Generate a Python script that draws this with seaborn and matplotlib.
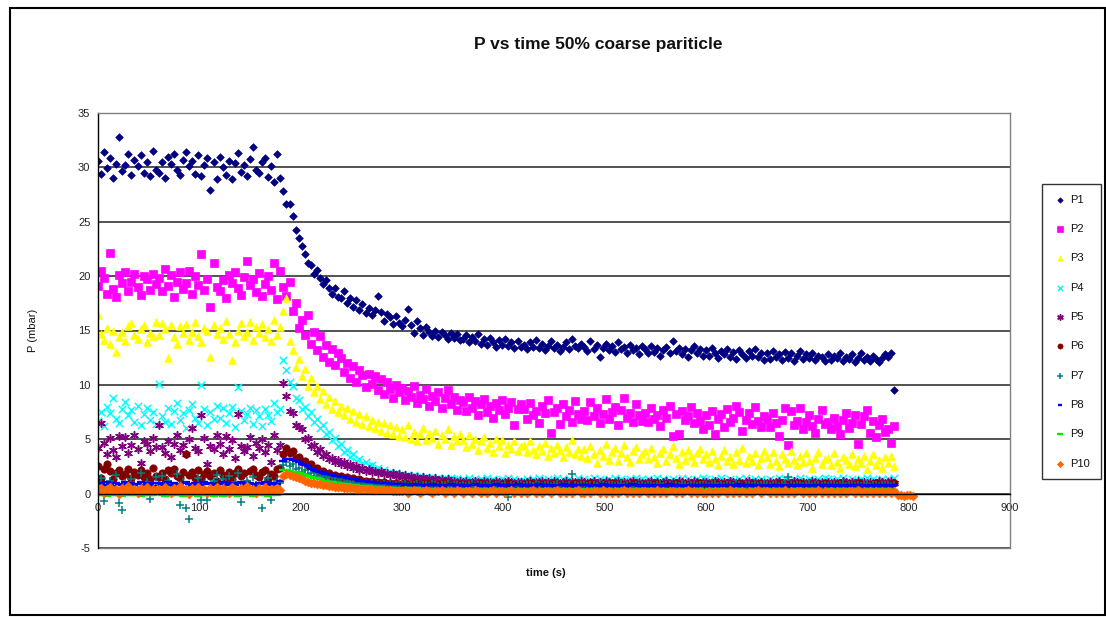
import matplotlib
matplotlib.use("Agg")
import matplotlib.pyplot as plt
import numpy as np
import pandas as pd
import seaborn as sns
from matplotlib.patches import Rectangle

# Logger sampling clock (s)
TIME = list(range(0, 805, 3))

# Pressure readings (mbar) for the ten tappings, one value per sample
P1 = [
    30.6, 29.4, 31.4, 29.9, 30.9, 29.0, 30.3, 32.8, 29.7, 30.2, 31.2, 29.3, 30.7, 30.1, 31.1, 29.5, 30.5, 29.2, 31.5, 29.8,
    29.5, 30.5, 29.0, 31.0, 30.3, 31.2, 29.8, 29.3, 30.7, 31.4, 30.1, 30.6, 29.4, 31.1, 29.2, 30.2, 30.9, 27.9, 30.5, 28.9,
    31.0, 30.0, 29.3, 30.6, 28.9, 30.4, 31.3, 29.6, 30.2, 29.2, 30.8, 31.9, 29.8, 29.5, 30.5, 30.9, 29.1, 30.1, 28.7, 31.2,
    29.0, 27.8, 26.6, 26.6, 25.5, 24.2, 23.5, 22.8, 22.0, 21.2, 21.0, 20.2, 20.6, 19.8, 19.3, 19.6, 18.9, 18.4, 18.9, 18.1,
    18.0, 18.6, 17.5, 18.0, 17.2, 17.8, 16.9, 17.4, 16.6, 17.1, 16.4, 16.9, 18.2, 16.7, 15.9, 16.5, 16.2, 15.6, 16.3, 15.7,
    15.4, 16.0, 17.0, 15.5, 14.8, 15.9, 15.2, 14.6, 15.3, 14.9, 14.5, 15.0, 14.4, 14.9, 14.6, 14.2, 14.8, 14.3, 14.7, 14.1,
    14.2, 14.6, 13.9, 14.4, 14.0, 14.7, 13.8, 14.2, 13.7, 14.3, 13.9, 13.5, 14.1, 13.7, 14.2, 13.6, 13.9, 13.4, 14.0, 13.5,
    13.7, 13.3, 13.9, 13.5, 14.1, 13.4, 13.8, 13.2, 13.6, 14.0, 13.4, 13.7, 13.1, 13.5, 13.9, 13.3, 14.2, 13.6, 13.4, 13.8,
    13.5, 13.1, 14.0, 13.3, 13.7, 12.6, 13.4, 13.8, 13.2, 13.6, 13.0, 13.9, 13.3, 13.5, 12.9, 13.7, 13.2, 13.4, 12.8, 13.6,
    13.3, 12.9, 13.6, 13.0, 13.4, 12.7, 13.2, 13.5, 12.9, 14.0, 13.1, 13.4, 12.8, 13.3, 12.6, 13.2, 13.6, 12.9, 13.3, 12.7,
    13.2, 12.7, 13.4, 12.9, 12.5, 13.1, 12.8, 13.3, 12.6, 13.0, 12.4, 13.2, 12.8, 12.5, 13.1, 12.7, 13.3, 12.6, 12.9, 12.3,
    12.9, 12.4, 13.1, 12.6, 12.8, 12.3, 13.0, 12.5, 12.9, 12.2, 12.7, 13.1, 12.4, 12.8, 12.5, 12.9, 12.3, 12.7, 12.6, 12.2,
    12.8, 12.3, 12.7, 12.5, 12.9, 12.2, 12.6, 12.4, 12.8, 12.1, 12.5, 12.9, 12.3, 12.6, 12.2, 12.7, 12.4, 12.1, 12.5, 12.8,
    12.6, 12.9, 9.5,
]
P2 = [
    19.1, 20.5, 19.8, 18.4, 22.1, 18.8, 18.1, 20.1, 19.4, 20.4, 18.6, 19.5, 20.2, 19.0, 18.3, 20.0, 19.7, 18.7, 20.2, 19.3,
    19.8, 18.6, 20.7, 19.1, 20.1, 18.1, 19.5, 20.4, 18.8, 19.4, 20.5, 18.4, 20.0, 19.2, 22.0, 18.7, 19.7, 17.2, 21.2, 19.0,
    18.6, 19.6, 18.0, 20.1, 19.4, 20.4, 18.9, 18.3, 19.9, 21.4, 19.2, 19.7, 18.5, 20.3, 18.2, 19.3, 20.0, 18.7, 21.2, 17.9,
    20.5, 19.0, 18.2, 19.5, 16.8, 17.5, 15.2, 16.0, 14.6, 16.4, 13.8, 14.9, 13.2, 14.5, 12.6, 13.7, 12.1, 13.3, 11.8, 12.9,
    12.5, 11.2, 12.0, 10.6, 11.7, 10.3, 11.4, 10.9, 9.8, 11.0, 10.1, 10.8, 9.5, 10.5, 9.2, 10.3, 9.6, 8.8, 10.0, 9.3,
    9.7, 8.6, 9.4, 8.9, 9.9, 8.3, 9.1, 8.7, 9.6, 8.1, 9.0, 8.5, 9.3, 7.9, 8.8, 9.5, 8.2, 8.9, 7.7, 8.6,
    8.4, 7.6, 8.9, 7.9, 8.5, 7.2, 8.2, 8.7, 7.5, 8.1, 7.0, 8.3, 7.7, 8.6, 7.3, 7.9, 8.4, 6.3, 7.8, 8.2,
    7.8, 6.9, 8.3, 7.2, 7.6, 6.5, 8.1, 7.4, 8.6, 5.6, 7.5, 7.9, 6.4, 8.2, 7.1, 7.7, 6.6, 8.5, 7.3, 6.9,
    7.6, 6.8, 8.4, 7.1, 7.9, 6.5, 7.3, 8.7, 6.9, 7.5, 8.0, 6.3, 7.7, 8.8, 7.0, 7.4, 6.6, 8.2, 7.2, 6.7,
    7.4, 6.6, 7.9, 6.9, 7.2, 6.2, 7.7, 7.0, 8.1, 5.3, 7.3, 5.5, 7.6, 6.8, 7.1, 8.0, 6.5, 7.4, 6.7, 5.9,
    7.2, 6.3, 7.6, 5.5, 6.9, 7.3, 6.1, 7.8, 6.6, 7.0, 8.1, 7.5, 5.8, 6.8, 7.4, 6.4, 8.0, 6.7, 6.1, 7.1,
    6.9, 6.1, 7.4, 6.5, 5.3, 6.8, 7.9, 4.5, 7.6, 6.3, 6.7, 7.9, 5.9, 6.6, 7.2, 6.2, 5.6, 6.9, 7.7, 6.4,
    6.6, 5.9, 7.0, 6.2, 5.5, 6.8, 7.4, 6.0, 6.5, 7.2, 4.6, 6.4, 7.1, 7.7, 5.6, 6.7, 5.2, 6.3, 6.9, 5.7,
    5.9, 4.7, 6.2,
]
P3 = [
    16.4, 14.7, 14.1, 15.2, 13.8, 15.0, 13.0, 14.4, 14.9, 14.0, 15.4, 15.7, 14.6, 14.2, 15.1, 15.5, 13.9, 14.8, 14.5, 15.8,
    14.6, 15.7, 15.1, 12.5, 15.5, 14.4, 13.8, 15.4, 14.8, 15.6, 14.1, 14.9, 15.8, 14.5, 13.9, 15.2, 15.0, 12.6, 15.5, 14.7,
    15.2, 14.2, 15.9, 14.7, 12.3, 13.9, 15.0, 15.7, 14.5, 14.9, 15.8, 14.1, 15.3, 14.8, 15.6, 14.4, 15.1, 14.0, 16.0, 14.6,
    15.3, 16.8, 18.0, 14.0, 13.2, 11.6, 12.4, 10.8, 11.5, 9.9, 10.6, 9.3, 9.9, 8.7, 9.4, 8.2, 8.9, 7.8, 8.5, 7.5,
    8.1, 7.2, 7.9, 6.9, 7.6, 6.6, 7.3, 6.4, 7.1, 6.2, 6.8, 6.0, 6.6, 5.8, 6.5, 5.6, 6.3, 5.5, 6.1, 5.3,
    5.9, 5.2, 6.3, 5.0, 5.7, 4.8, 5.5, 6.0, 4.9, 5.6, 5.1, 5.8, 4.6, 5.4, 5.0, 5.9, 4.5, 5.3, 4.8, 5.5,
    4.9, 4.3, 5.4, 4.6, 5.0, 4.0, 4.8, 5.2, 4.2, 4.7, 3.8, 5.0, 4.4, 4.9, 3.7, 4.5, 4.1, 4.8, 3.9, 4.4,
    4.5, 3.8, 4.8, 4.0, 3.6, 4.4, 3.9, 4.7, 3.5, 4.2, 3.7, 4.5, 4.0, 3.4, 4.3, 3.8, 4.9, 3.6, 4.1, 3.5,
    4.1, 3.3, 4.4, 3.6, 2.8, 4.0, 3.5, 4.6, 3.1, 3.8, 4.2, 3.0, 3.7, 4.5, 3.4, 2.9, 3.9, 4.3, 3.2, 3.6,
    3.9, 3.2, 4.2, 3.4, 2.8, 3.7, 4.1, 3.0, 3.6, 4.4, 3.3, 2.7, 3.8, 3.1, 4.0, 3.5, 2.9, 3.7, 4.1, 3.2,
    3.6, 2.9, 3.9, 3.2, 2.6, 3.5, 4.0, 3.0, 3.4, 2.7, 3.8, 3.1, 4.2, 2.8, 3.5, 3.0, 3.7, 2.6, 3.3, 3.9,
    3.4, 2.7, 3.8, 3.0, 2.5, 3.6, 3.2, 2.8, 3.9, 3.1, 2.6, 3.5, 2.9, 3.7, 3.0, 2.4, 3.3, 3.8, 2.7, 3.2,
    3.3, 2.6, 3.7, 2.9, 2.4, 3.4, 3.1, 2.7, 3.6, 2.5, 3.2, 2.8, 3.5, 2.3, 3.0, 3.6, 2.6, 3.1, 2.4, 3.4,
    2.8, 3.5, 2.5,
]
P4 = [
    6.7, 7.5, 6.2, 8.0, 7.4, 8.8, 6.9, 6.5, 7.8, 8.4, 7.2, 7.7, 6.6, 8.1, 6.3, 7.3, 7.9, 6.8, 7.5, 6.4,
    10.1, 7.1, 6.6, 7.9, 6.4, 7.6, 8.3, 6.8, 7.4, 6.0, 7.7, 8.2, 7.0, 6.5, 10.0, 7.8, 6.3, 7.5, 6.9, 8.1,
    7.0, 7.9, 6.5, 7.4, 8.0, 6.1, 9.8, 7.6, 6.8, 7.3, 7.9, 6.4, 7.7, 7.1, 6.2, 7.8, 7.2, 6.7, 8.3, 7.5,
    7.8, 12.3, 11.4, 10.3, 9.9, 8.8, 8.6, 7.8, 8.0, 7.1, 7.5, 6.6, 6.9, 6.0, 6.3, 5.5, 5.7, 4.9, 5.1, 4.4,
    4.6, 3.8, 4.0, 3.4, 3.6, 3.0, 3.2, 2.7, 2.9, 2.5, 2.6, 2.2, 2.4, 2.0, 2.2, 1.9, 2.0, 1.8, 1.9, 1.7,
    1.8, 1.6, 1.7, 1.5, 1.7, 1.5, 1.6, 1.4, 1.5, 1.4, 1.5, 1.3, 1.4, 1.3, 1.4, 1.2, 1.4, 1.3, 1.3, 1.2,
    1.3, 1.2, 1.4, 1.2, 1.3, 1.1, 1.3, 1.2, 1.4, 1.2, 1.3, 1.1, 1.2, 1.3, 1.2, 1.4, 1.1, 1.3, 1.2, 1.2,
    1.2, 1.3, 1.1, 1.3, 1.2, 1.4, 1.2, 1.1, 1.3, 1.2, 1.2, 1.4, 1.1, 1.3, 1.2, 1.3, 1.1, 1.2, 1.4, 1.2,
    1.3, 1.1, 1.2, 1.4, 1.2, 1.3, 1.1, 1.2, 1.3, 1.2, 1.4, 1.1, 1.3, 1.2, 1.2, 1.3, 1.1, 1.4, 1.2, 1.3,
    1.2, 1.3, 1.1, 1.2, 1.4, 1.2, 1.3, 1.1, 1.2, 1.3, 1.2, 1.1, 1.4, 1.2, 1.3, 1.2, 1.1, 1.3, 1.2, 1.4,
    1.3, 1.2, 1.1, 1.3, 1.2, 1.4, 1.1, 1.2, 1.3, 1.2, 1.1, 1.3, 1.2, 1.4, 1.2, 1.1, 1.3, 1.2, 1.3, 1.1,
    1.2, 1.3, 1.2, 1.1, 1.4, 1.2, 1.3, 1.1, 1.2, 1.3, 1.2, 1.4, 1.1, 1.2, 1.3, 1.2, 1.1, 1.3, 1.2, 1.4,
    1.3, 1.1, 1.2, 1.3, 1.2, 1.4, 1.1, 1.2, 1.3, 1.1, 1.2, 1.3, 1.2, 1.4, 1.1, 1.3, 1.2, 1.1, 1.3, 1.2,
    1.3, 1.2, 1.4,
]
P5 = [
    4.2, 6.5, 4.7, 3.6, 5.1, 4.0, 3.4, 5.3, 4.4, 5.2, 3.7, 4.5, 5.4, 4.1, 2.8, 4.8, 4.6, 3.9, 5.1, 4.3,
    6.3, 4.3, 3.7, 4.8, 3.4, 4.6, 5.4, 4.0, 4.5, 3.6, 5.0, 6.0, 4.2, 3.9, 7.2, 5.1, 2.7, 4.4, 4.1, 5.4,
    4.6, 3.6, 5.3, 4.1, 4.9, 3.3, 7.3, 4.4, 3.9, 4.3, 5.2, 3.5, 4.7, 4.2, 5.0, 3.8, 4.5, 2.9, 5.4, 4.0,
    4.5, 10.2, 9.0, 7.6, 7.4, 6.3, 6.1, 5.9, 5.0, 5.1, 4.4, 4.5, 3.8, 4.1, 3.5, 3.6, 3.2, 3.3, 2.9, 3.1,
    2.7, 2.9, 2.5, 2.7, 2.4, 2.5, 2.2, 2.4, 2.1, 2.3, 2.0, 2.1, 1.9, 2.1, 1.8, 1.9, 1.7, 1.9, 1.6, 1.8,
    1.5, 1.7, 1.5, 1.6, 1.4, 1.5, 1.3, 1.5, 1.3, 1.4, 1.2, 1.4, 1.2, 1.3, 1.2, 1.3, 1.1, 1.2, 1.1, 1.2,
    1.1, 1.2, 1.0, 1.1, 1.2, 1.1, 1.0, 1.2, 1.1, 1.1, 1.0, 1.2, 1.1, 1.0, 1.1, 1.2, 1.1, 1.0, 1.1, 1.1,
    1.0, 1.1, 1.2, 1.0, 1.1, 1.1, 1.2, 1.0, 1.1, 1.0, 1.2, 1.1, 1.0, 1.1, 1.2, 1.0, 1.1, 1.1, 1.0, 1.2,
    1.1, 1.0, 1.1, 1.2, 1.0, 1.1, 1.0, 1.2, 1.1, 1.0, 1.1, 1.2, 1.0, 1.1, 1.0, 1.1, 1.2, 1.0, 1.1, 1.0,
    1.0, 1.1, 1.2, 1.0, 1.1, 1.0, 1.1, 1.2, 1.0, 1.1, 1.0, 1.2, 1.1, 1.0, 1.1, 1.0, 1.2, 1.1, 1.0, 1.1,
    1.1, 1.0, 1.0, 1.2, 1.1, 1.0, 1.1, 1.0, 1.2, 1.1, 1.0, 1.1, 1.0, 1.1, 1.2, 1.0, 1.1, 1.0, 1.1, 1.0,
    1.0, 1.1, 1.0, 1.1, 1.2, 1.0, 1.0, 1.1, 1.0, 1.2, 1.1, 1.0, 1.1, 1.0, 1.0, 1.2, 1.1, 1.0, 1.1, 1.0,
    1.1, 1.0, 1.1, 1.0, 1.0, 1.2, 1.1, 1.0, 1.1, 1.0, 1.2, 1.0, 1.1, 1.0, 1.1, 1.0, 1.0, 1.2, 1.1, 1.0,
    1.1, 1.2, 1.0,
]
P6 = [
    2.5, 1.4, 2.3, 2.7, 2.1, 1.3, 1.9, 2.2, 1.6, 1.8, 2.3, 1.4, 2.0, 1.7, 2.2, 1.5, 1.9, 1.3, 2.4, 1.6,
    1.5, 1.9, 1.3, 2.2, 1.9, 2.3, 1.6, 1.4, 2.0, 3.6, 1.7, 2.0, 1.4, 2.2, 1.3, 1.8, 2.1, 1.6, 1.9, 1.2,
    2.2, 1.7, 1.4, 2.0, 1.3, 1.9, 2.3, 1.6, 1.9, 1.0, 2.1, 2.3, 1.7, 1.5, 2.0, 2.2, 1.3, 1.8, 1.6, 2.3,
    2.4, 3.6, 4.2, 3.7, 3.9, 3.3, 3.4, 2.9, 3.0, 2.6, 2.7, 2.3, 2.4, 2.0, 2.1, 1.8, 1.9, 1.6, 1.7, 1.5,
    1.6, 1.4, 1.5, 1.3, 1.4, 1.2, 1.3, 1.2, 1.2, 1.1, 1.2, 1.0, 1.1, 1.0, 1.1, 0.9, 1.0, 0.9, 1.0, 0.9,
    0.9, 1.0, 0.9, 0.9, 1.0, 0.9, 0.8, 0.9, 1.0, 0.9, 0.9, 0.8, 0.9, 0.9, 1.0, 0.8, 0.9, 0.9, 0.8, 0.9,
    0.9, 0.8, 0.9, 0.9, 0.8, 0.9, 1.0, 0.8, 0.9, 0.8, 0.9, 0.9, 0.8, 0.9, 0.8, 1.0, 0.9, 0.8, 0.9, 0.8,
    0.8, 0.9, 0.9, 1.0, 0.8, 0.9, 0.8, 0.9, 0.9, 0.8, 1.0, 0.9, 0.8, 0.9, 0.9, 0.8, 0.9, 1.0, 0.8, 0.9,
    0.9, 0.8, 1.0, 0.9, 0.8, 0.9, 0.9, 0.8, 0.9, 1.0, 0.8, 0.9, 0.9, 0.8, 0.9, 0.8, 1.0, 0.9, 0.8, 0.9,
    0.8, 0.9, 0.9, 0.8, 1.0, 0.9, 0.8, 0.9, 0.8, 0.9, 1.0, 0.8, 0.9, 0.9, 0.8, 0.9, 0.8, 0.9, 1.0, 0.8,
    0.9, 0.8, 0.9, 1.0, 0.8, 0.9, 0.9, 0.8, 0.9, 0.8, 0.9, 1.0, 0.8, 0.9, 0.8, 0.9, 0.9, 0.8, 1.0, 0.9,
    0.8, 0.9, 0.8, 0.9, 1.0, 0.8, 0.9, 0.9, 0.8, 0.9, 0.8, 1.0, 0.9, 0.8, 0.9, 0.9, 0.8, 0.9, 0.8, 1.0,
    0.9, 0.8, 0.9, 0.8, 1.0, 0.9, 0.8, 0.9, 0.9, 0.8, 1.0, 0.9, 0.8, 0.9, 0.8, 0.9, 1.0, 0.8, 0.9, 0.9,
    0.9, 0.8, 1.0,
]
P7 = [
    0.9, 1.4, -0.7, 0.6, 1.2, 0.4, 1.7, -0.9, -1.5, 1.0, 0.5, 1.3, 0.8, 0.3, 1.9, 0.7, 1.1, -0.5, 0.6, 1.5,
    0.8, 1.6, 0.4, 1.2, 0.9, 0.5, 1.8, -1.0, 1.1, -1.3, -2.3, 0.7, 0.4, 1.4, -0.6, 0.9, -0.6, 0.5, 1.2, 1.7,
    0.6, 1.3, 0.9, 1.6, 0.4, 1.1, 1.9, -0.8, 0.7, 1.2, 0.5, 1.5, 0.8, 0.3, -1.3, 1.0, 1.4, -0.6, 0.7, 1.2,
    1.0, 2.6, 2.9, 2.5, 2.7, 2.3, 2.4, 2.0, 2.2, 1.8, 1.9, 1.6, 1.8, 1.5, 1.6, 1.3, 1.5, 1.2, 1.4, 1.2,
    1.3, 1.1, 1.2, 1.0, 1.1, 1.0, 1.1, 0.9, 1.0, 0.9, 1.0, 0.8, 0.9, 0.8, 0.9, 0.8, 0.9, 0.7, 0.8, 0.8,
    0.8, 0.9, 0.7, 0.8, 0.8, 0.9, 0.7, 0.8, 0.8, 0.7, 0.9, 0.8, 0.7, 0.8, 0.8, 0.9, 0.7, 0.8, 0.8, 0.7,
    0.8, 0.7, 0.8, 0.9, 0.7, 0.8, 0.8, 0.7, 0.8, 0.9, 0.7, 0.8, 0.8, 0.7, 0.8, -0.3, 0.8, 0.7, 0.9, 0.8,
    0.7, 0.8, 0.8, 0.7, 0.9, 0.8, 0.7, 0.8, 0.8, 0.7, 0.8, 0.9, 0.7, 0.8, 0.7, 0.8, 1.8, 0.8, 0.7, 0.8,
    0.8, 0.7, 0.8, 0.8, 0.7, 0.9, 0.8, 0.7, 0.8, 0.8, 0.7, 0.8, 0.9, 0.7, 0.8, 0.8, 0.7, 0.8, 0.7, 0.8,
    0.7, 0.8, 0.8, 0.7, 0.8, 0.9, 0.7, 0.8, 0.8, 0.7, 0.8, 0.7, 0.9, 0.8, 0.7, 0.8, 0.8, 0.7, 0.8, 0.8,
    0.8, 0.7, 0.8, 0.9, 0.7, 0.8, 0.7, 0.8, 0.8, 0.7, 0.9, 0.8, 0.7, 0.8, 0.8, 0.7, 0.8, 0.7, 0.8, 0.9,
    0.8, 0.7, 0.8, 0.8, 0.7, 0.8, 0.9, 1.5, 0.8, 0.7, 0.8, 0.8, 0.7, 0.8, 0.9, 0.7, 0.8, 0.8, 0.7, 0.8,
    0.7, 0.8, 0.8, 0.7, 0.8, 0.9, 0.7, 0.8, 0.8, 0.7, 0.8, 0.7, 0.8, 0.9, 0.7, 0.8, 0.8, 0.7, 0.8, 0.8,
    0.8, 0.7, 0.8,
]
P8 = [
    0.9, 1.0, 0.8, 1.1, 0.9, 0.7, 1.0, 0.9, 0.8, 1.1, 0.9, 1.0, 0.8, 0.9, 1.1, 0.8, 1.0, 0.9, 0.7, 1.0,
    1.0, 0.8, 0.9, 1.1, 0.8, 1.0, 0.9, 0.7, 1.0, 1.1, 0.9, 0.8, 1.0, 0.9, 0.8, 1.1, 0.9, 1.0, 0.8, 0.9,
    0.9, 1.1, 0.8, 1.0, 0.9, 0.8, 1.0, 1.1, 0.9, 0.8, 1.0, 0.9, 0.7, 1.0, 0.9, 1.1, 0.8, 0.9, 1.0, 0.9,
    1.2, 3.0, 3.2, 3.2, 3.1, 3.0, 2.9, 2.7, 2.6, 2.5, 2.3, 2.2, 2.1, 2.0, 1.9, 1.8, 1.8, 1.7, 1.6, 1.6,
    1.5, 1.5, 1.4, 1.4, 1.3, 1.3, 1.2, 1.2, 1.2, 1.1, 1.1, 1.1, 1.0, 1.0, 1.0, 1.0, 0.9, 0.9, 0.9, 0.9,
    0.9, 0.8, 0.9, 0.8, 0.8, 0.9, 0.8, 0.8, 0.7, 0.8, 0.9, 0.8, 0.8, 0.7, 0.8, 0.8, 0.9, 0.8, 0.7, 0.8,
    0.8, 0.7, 0.8, 0.8, 0.9, 0.8, 0.7, 0.8, 0.8, 0.7, 0.8, 0.9, 0.8, 0.7, 0.8, 0.8, 0.7, 0.8, 0.9, 0.8,
    0.7, 0.8, 0.8, 0.7, 0.8, 0.9, 0.8, 0.7, 0.8, 0.8, 0.7, 0.8, 0.8, 0.9, 0.7, 0.8, 0.8, 0.7, 0.8, 0.8,
    0.8, 0.8, 0.7, 0.8, 0.8, 0.7, 0.9, 0.8, 0.7, 0.8, 0.8, 0.7, 0.8, 0.8, 0.7, 0.8, 0.9, 0.8, 0.7, 0.8,
    0.7, 0.8, 0.8, 0.7, 0.8, 0.8, 0.7, 0.8, 0.9, 0.7, 0.8, 0.8, 0.7, 0.8, 0.7, 0.8, 0.8, 0.7, 0.8, 0.8,
    0.8, 0.7, 0.8, 0.8, 0.7, 0.8, 0.7, 0.8, 0.8, 0.7, 0.8, 0.9, 0.7, 0.8, 0.8, 0.7, 0.8, 0.7, 0.8, 0.8,
    0.7, 0.8, 0.7, 0.8, 0.8, 0.7, 0.8, 0.8, 0.7, 0.8, 0.7, 0.8, 0.8, 0.7, 0.8, 0.8, 0.7, 0.8, 0.7, 0.8,
    0.8, 0.7, 0.8, 0.7, 0.8, 0.8, 0.7, 0.8, 0.7, 0.8, 0.8, 0.7, 0.8, 0.7, 0.8, 0.8, 0.7, 0.8, 0.8, 0.7,
    0.8, 0.7, 0.8,
]
P9 = [
    -0.1, 0.0, -0.1, -0.2, 0.0, -0.1, 0.0, -0.1, -0.2, -0.1, 0.0, -0.1, -0.1, 0.0, -0.2, -0.1, 0.0, -0.1, -0.1, 0.0,
    0.0, -0.1, -0.2, -0.1, 0.0, -0.1, -0.1, 0.0, -0.2, -0.1, 0.0, -0.1, 0.0, -0.2, -0.1, -0.1, 0.0, -0.1, -0.2, 0.0,
    -0.1, -0.2, 0.0, -0.1, -0.1, 0.0, -0.2, -0.1, 0.0, -0.1, -0.1, -0.2, 0.0, -0.1, 0.0, -0.1, -0.2, -0.1, 0.0, -0.1,
    0.0, 2.2, 2.2, 2.1, 2.0, 2.0, 1.9, 1.8, 1.7, 1.6, 1.5, 1.4, 1.4, 1.3, 1.2, 1.2, 1.1, 1.1, 1.0, 1.0,
    0.9, 0.9, 0.9, 0.8, 0.8, 0.8, 0.7, 0.7, 0.7, 0.7, 0.6, 0.6, 0.6, 0.6, 0.5, 0.5, 0.5, 0.5, 0.5, 0.4,
    0.5, 0.4, 0.5, 0.4, 0.4, 0.5, 0.4, 0.4, 0.4, 0.3, 0.4, 0.4, 0.3, 0.4, 0.4, 0.3, 0.4, 0.3, 0.4, 0.3,
    0.4, 0.3, 0.4, 0.4, 0.3, 0.4, 0.3, 0.4, 0.3, 0.4, 0.3, 0.4, 0.4, 0.3, 0.4, 0.3, 0.3, 0.4, 0.3, 0.4,
    0.3, 0.4, 0.3, 0.4, 0.3, 0.3, 0.4, 0.3, 0.4, 0.3, 0.4, 0.3, 0.3, 0.4, 0.3, 0.4, 0.3, 0.3, 0.4, 0.3,
    0.4, 0.3, 0.3, 0.4, 0.3, 0.4, 0.3, 0.3, 0.4, 0.3, 0.3, 0.4, 0.3, 0.3, 0.4, 0.3, 0.4, 0.3, 0.3, 0.4,
    0.3, 0.3, 0.4, 0.3, 0.3, 0.4, 0.3, 0.4, 0.3, 0.3, 0.4, 0.3, 0.3, 0.4, 0.3, 0.3, 0.4, 0.3, 0.4, 0.3,
    0.3, 0.4, 0.3, 0.3, 0.4, 0.3, 0.3, 0.4, 0.3, 0.4, 0.3, 0.3, 0.4, 0.3, 0.3, 0.4, 0.3, 0.3, 0.4, 0.3,
    0.4, 0.3, 0.3, 0.4, 0.3, 0.3, 0.4, 0.3, 0.3, 0.4, 0.3, 0.4, 0.3, 0.3, 0.4, 0.3, 0.3, 0.4, 0.3, 0.3,
    0.3, 0.4, 0.3, 0.3, 0.4, 0.3, 0.3, 0.4, 0.3, 0.3, 0.4, 0.3, 0.3, 0.3, 0.4, 0.3, 0.3, 0.4, 0.3, 0.3,
    0.4, 0.3, 0.3,
]
P10 = [
    0.3, 0.5, 0.1, 0.4, 0.6, 0.2, 0.4, 0.0, 0.5, 0.3, 0.7, 0.2, 0.4, 0.1, 0.5, 0.3, 0.6, 0.2, 0.4, 0.3,
    0.4, 0.2, 0.6, 0.3, 0.1, 0.5, 0.3, 0.7, 0.2, 0.4, 0.0, 0.5, 0.3, 0.6, 0.2, 0.4, 0.1, 0.5, 0.3, 0.6,
    0.2, 0.5, 0.3, 0.1, 0.6, 0.4, 0.2, 0.5, 0.3, 0.7, 0.2, 0.4, 0.1, 0.5, 0.3, 0.6, 0.2, 0.4, 0.3, 0.5,
    0.3, 1.6, 1.8, 1.7, 1.6, 1.5, 1.4, 1.3, 1.2, 1.1, 1.0, 1.0, 0.9, 0.9, 0.8, 0.8, 0.7, 0.7, 0.6, 0.6,
    0.6, 0.5, 0.5, 0.5, 0.5, 0.4, 0.4, 0.4, 0.4, 0.4, 0.3, 0.3, 0.3, 0.3, 0.3, 0.3, 0.3, 0.2, 0.2, 0.2,
    0.2, 0.3, 0.1, 0.2, 0.3, 0.2, 0.1, 0.2, 0.3, 0.2, 0.1, 0.2, 0.2, 0.3, 0.1, 0.2, 0.2, 0.1, 0.3, 0.2,
    0.1, 0.2, 0.2, 0.1, 0.3, 0.2, 0.1, 0.2, 0.1, 0.2, 0.3, 0.1, 0.2, 0.2, 0.1, 0.2, 0.3, 0.1, 0.2, 0.1,
    0.2, 0.1, 0.2, 0.3, 0.1, 0.2, 0.1, 0.2, 0.2, 0.1, 0.2, 0.3, 0.1, 0.2, 0.1, 0.2, 0.1, 0.2, 0.3, 0.1,
    0.1, 0.2, 0.1, 0.2, 0.2, 0.1, 0.3, 0.1, 0.2, 0.1, 0.2, 0.1, 0.2, 0.3, 0.1, 0.2, 0.1, 0.2, 0.1, 0.2,
    0.2, 0.1, 0.2, 0.1, 0.3, 0.1, 0.2, 0.1, 0.2, 0.2, 0.1, 0.2, 0.1, 0.2, 0.3, 0.1, 0.2, 0.1, 0.2, 0.1,
    0.1, 0.2, 0.1, 0.2, 0.1, 0.2, 0.2, 0.1, 0.3, 0.1, 0.2, 0.1, 0.2, 0.1, 0.2, 0.1, 0.2, 0.3, 0.1, 0.2,
    0.2, 0.1, 0.2, 0.1, 0.2, 0.1, 0.3, 0.1, 0.2, 0.1, 0.2, 0.2, 0.1, 0.2, 0.1, 0.2, 0.1, 0.3, 0.1, 0.2,
    0.1, 0.2, 0.1, 0.2, 0.1, 0.2, 0.1, 0.2, 0.2, 0.1, 0.3, 0.1, 0.2, 0.1, 0.2, 0.1, 0.2, 0.1, 0.2, 0.1,
    0.2, 0.1, 0.2, -0.1, -0.1, -0.2, -0.1, -0.1, -0.2,
]

SERIES_NAMES = ["P1", "P2", "P3", "P4", "P5", "P6", "P7", "P8", "P9", "P10"]
SERIES_VALUES = [P1, P2, P3, P4, P5, P6, P7, P8, P9, P10]

for _name, _vals in zip(SERIES_NAMES, SERIES_VALUES):
    assert len(_vals) <= len(TIME), (_name, len(_vals))

# Spreadsheet-style marker set: (marker, colour, size, filled)
STYLE = {
    "P1": ("D", "#000080", 15, True),
    "P2": ("s", "#FF00FF", 28, True),
    "P3": ("^", "#FFFF00", 30, True),
    "P4": ("x", "#00FFFF", 28, False),
    "P5": ((6, 2, 0), "#800080", 30, False),
    "P6": ("o", "#800000", 28, True),
    "P7": ("+", "#008080", 34, False),
    "P8": ("_", "#0000FF", 26, False),
    "P9": ("_", "#00EE00", 34, False),
    "P10": ("D", "#FF6600", 20, True),
}

sns.set_theme(style="white")
plt.rcParams["font.family"] = ["Liberation Sans", "DejaVu Sans"]
plt.rcParams["axes.unicode_minus"] = False

fig = plt.figure(figsize=(11.06, 6.17), dpi=100)
ax = fig.add_axes([98 / 1106, 1 - 548 / 617, 912 / 1106, 435 / 617])

for name, vals in zip(SERIES_NAMES, SERIES_VALUES):
    frame = pd.DataFrame({"time": TIME[:len(vals)], "P": vals})
    marker, color, size, filled = STYLE[name]
    kws = dict(marker=marker, color=color, s=size, label=name, ax=ax)
    if filled:
        kws.update(edgecolor=color, linewidth=0.5)
    else:
        kws.update(linewidth=1.7 if marker == "_" else 1.1)
    sns.scatterplot(data=frame, x="time", y="P", **kws)

ax.set_xlim(0, 900)
ax.set_ylim(-5, 35)
ax.set_xticks(np.arange(0, 901, 100))
ax.set_yticks(np.arange(-5, 36, 5))

# Horizontal gridlines behind the points
ax.set_axisbelow(True)
ax.yaxis.grid(True, color="#222222", linewidth=1.1)
ax.xaxis.grid(False)

# Axis lines: value axis on the left, category axis crossing at zero
ax.spines["left"].set_color("black")
ax.spines["left"].set_linewidth(1.0)
ax.spines["bottom"].set_position(("data", 0))
ax.spines["bottom"].set_color("black")
ax.spines["bottom"].set_linewidth(1.0)
for side in ("top", "right"):
    ax.spines[side].set_visible(True)
    ax.spines[side].set_color("#808080")
    ax.spines[side].set_linewidth(1.0)
ax.plot([0, 1], [0, 0], transform=ax.transAxes, color="#808080", lw=1.0, clip_on=False)

ax.tick_params(axis="both", which="major", direction="out", length=3.5, width=1,
               color="black", labelsize=8, labelcolor="#222222")
ax.tick_params(axis="y", pad=2)
ax.tick_params(axis="x", pad=3)

ax.set_xlabel("time (s)", fontsize=8, fontweight="bold", color="#111111")
ax.xaxis.set_label_coords(0.491, -0.045)
ax.set_ylabel("P (mbar)", fontsize=8, color="#111111")
ax.yaxis.set_label_coords(-0.066, 0.50)

fig.text(598 / 1106, 1 - 44 / 617, "P vs time 50% coarse pariticle",
         ha="center", va="center", fontsize=12.5, fontweight="bold",
         family=["Liberation Sans Narrow", "Liberation Sans", "DejaVu Sans"], color="#111111")

leg = ax.legend(loc="upper left", bbox_to_anchor=(1042 / 1106, 1 - 184 / 617),
                bbox_transform=fig.transFigure, frameon=True, fancybox=False,
                edgecolor="black", fontsize=8, labelspacing=1.74, handlelength=1.3,
                handletextpad=0.3, borderpad=0.95, borderaxespad=0.0, markerscale=0.7)
leg.get_frame().set_linewidth(1.0)
for text in leg.get_texts():
    text.set_color("#111111")

# Outer chart frame
fig.add_artist(Rectangle((9.5 / 1106, 2 / 617), 1095 / 1106, 607 / 617,
                         transform=fig.transFigure, fill=False, edgecolor="black", linewidth=1.5))

fig.savefig("out.png", dpi=100, facecolor="white")
